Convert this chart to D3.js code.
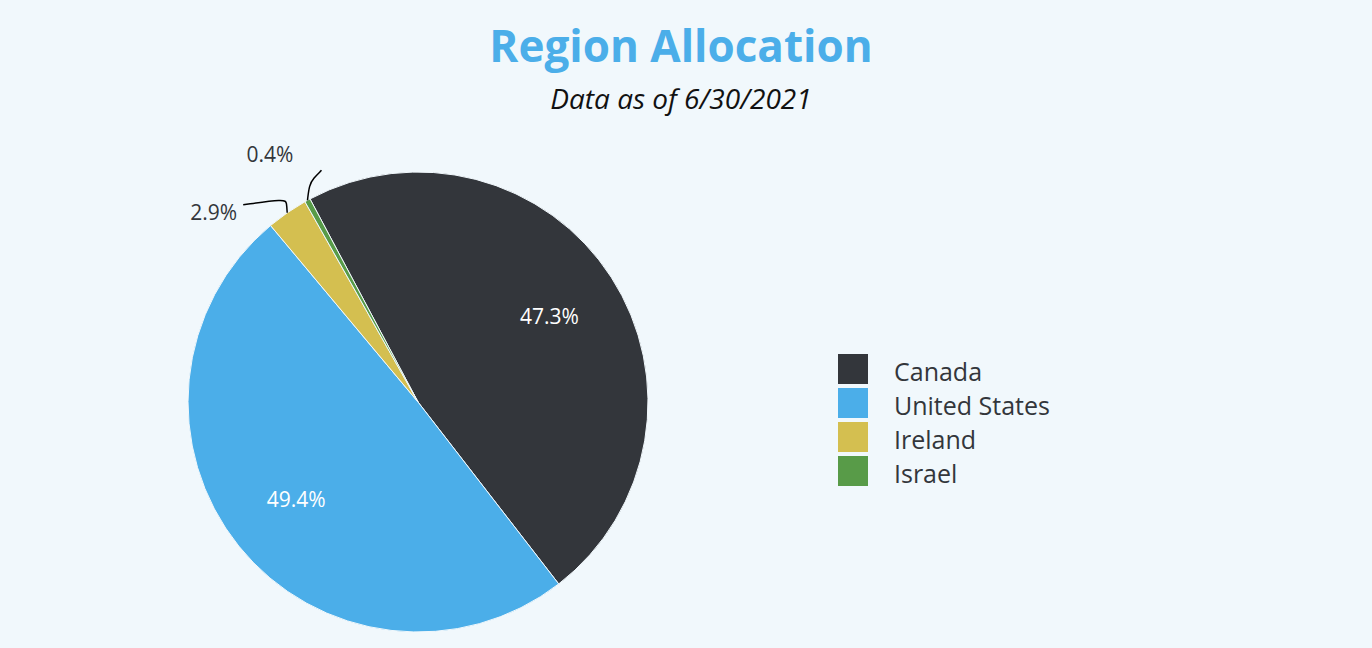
<!DOCTYPE html>
<html><head><meta charset="utf-8">
<script src="https://cdn.jsdelivr.net/npm/d3@7"></script>
<style>body{margin:0;background:#f1f8fc;font-family:"Open Sans",sans-serif;}</style>
</head><body>
<svg id="chart" width="1372" height="648"></svg>
<script>
const regions = ['Canada', 'United States', 'Ireland', 'Israel'];
const weights = [47.3, 49.4, 2.9, 0.4];
const colors = ['#33363b', '#4baee9', '#d4bf50', '#589b48'];

const width = 1372, height = 648;
const cx = 418, cy = 402, r = 230;
const startAngle = -28 * Math.PI / 180;

const svg = d3.select('#chart');
svg.append('rect').attr('width', width).attr('height', height).attr('fill', '#f1f8fc');

// Title
svg.append('text').attr('x', 681).attr('y', 62).attr('text-anchor', 'middle')
  .style('font-size', '44px').style('font-weight', 'bold').attr('fill', '#4baee9')
  .text('Region Allocation');
svg.append('text').attr('x', 681).attr('y', 109).attr('text-anchor', 'middle')
  .style('font-size', '28px').style('font-style', 'italic').attr('fill', '#111')
  .text('Data as of 6/30/2021');

const pie = d3.pie().sort(null).value(d => d)
  .startAngle(startAngle).endAngle(startAngle + 2 * Math.PI);
const arcs = pie(weights);
const arc = d3.arc().innerRadius(0).outerRadius(r);

const g = svg.append('g').attr('transform', `translate(${cx},${cy})`);
g.selectAll('path.slice').data(arcs).enter().append('path')
  .attr('class', 'slice')
  .attr('d', arc)
  .attr('fill', (d, i) => colors[i])
  .attr('stroke', '#f1f8fc').attr('stroke-width', 1);

// Inside labels for big slices
const inner = d3.arc().innerRadius(r * 0.68).outerRadius(r * 0.68);
g.selectAll('text.in').data(arcs.filter(d => d.value > 10)).enter().append('text')
  .attr('class', 'in')
  .attr('transform', d => `translate(${inner.centroid(d)})`)
  .attr('text-anchor', 'middle').attr('dy', '0.35em')
  .style('font-size', '21px').attr('fill', '#fff')
  .text(d => d.value.toFixed(1) + '%');

// Outside labels with curved leaders for small slices
const line = d3.line().curve(d3.curveBasis);
const pt = (a, rad) => [Math.sin(a) * rad, -Math.cos(a) * rad];
const small = arcs.filter(d => d.value < 10);
const offsets = [
  { elbow: [-2, -14], end: [-44, -8], tx: -50, ty: 0 },
  { elbow: [6, -22], end: [14, -30], tx: -14, ty: -46 }
];
small.forEach((d, k) => {
  const mid = (d.startAngle + d.endAngle) / 2;
  const p0 = pt(mid, r);
  const o = offsets[k];
  const p1 = [p0[0] + o.elbow[0], p0[1] + o.elbow[1]];
  const p2 = [p0[0] + o.end[0], p0[1] + o.end[1]];
  g.append('path').attr('d', line([p0, [p0[0] + o.elbow[0] * 0.3, p0[1] + o.elbow[1] * 0.7], p1, p2]))
    .attr('fill', 'none').attr('stroke', '#000').attr('stroke-width', 1.5);
  g.append('text')
    .attr('x', p0[0] + o.tx).attr('y', p0[1] + o.ty)
    .attr('text-anchor', 'end').attr('dy', '0.35em')
    .style('font-size', '21px').attr('fill', '#33363b')
    .text(d.value.toFixed(1) + '%');
});

// Legend
const legend = svg.append('g').attr('transform', 'translate(838,354)');
const ly = d3.scaleBand().domain(regions).range([0, 136]);
regions.forEach((name, i) => {
  legend.append('rect').attr('x', 0).attr('y', ly(name)).attr('width', 30).attr('height', 30)
    .attr('fill', colors[i]);
  legend.append('text').attr('x', 56).attr('y', ly(name) + 18).attr('dy', '0.35em')
    .style('font-size', '25px').attr('fill', '#33363b').text(name);
});
</script>
</body></html>
